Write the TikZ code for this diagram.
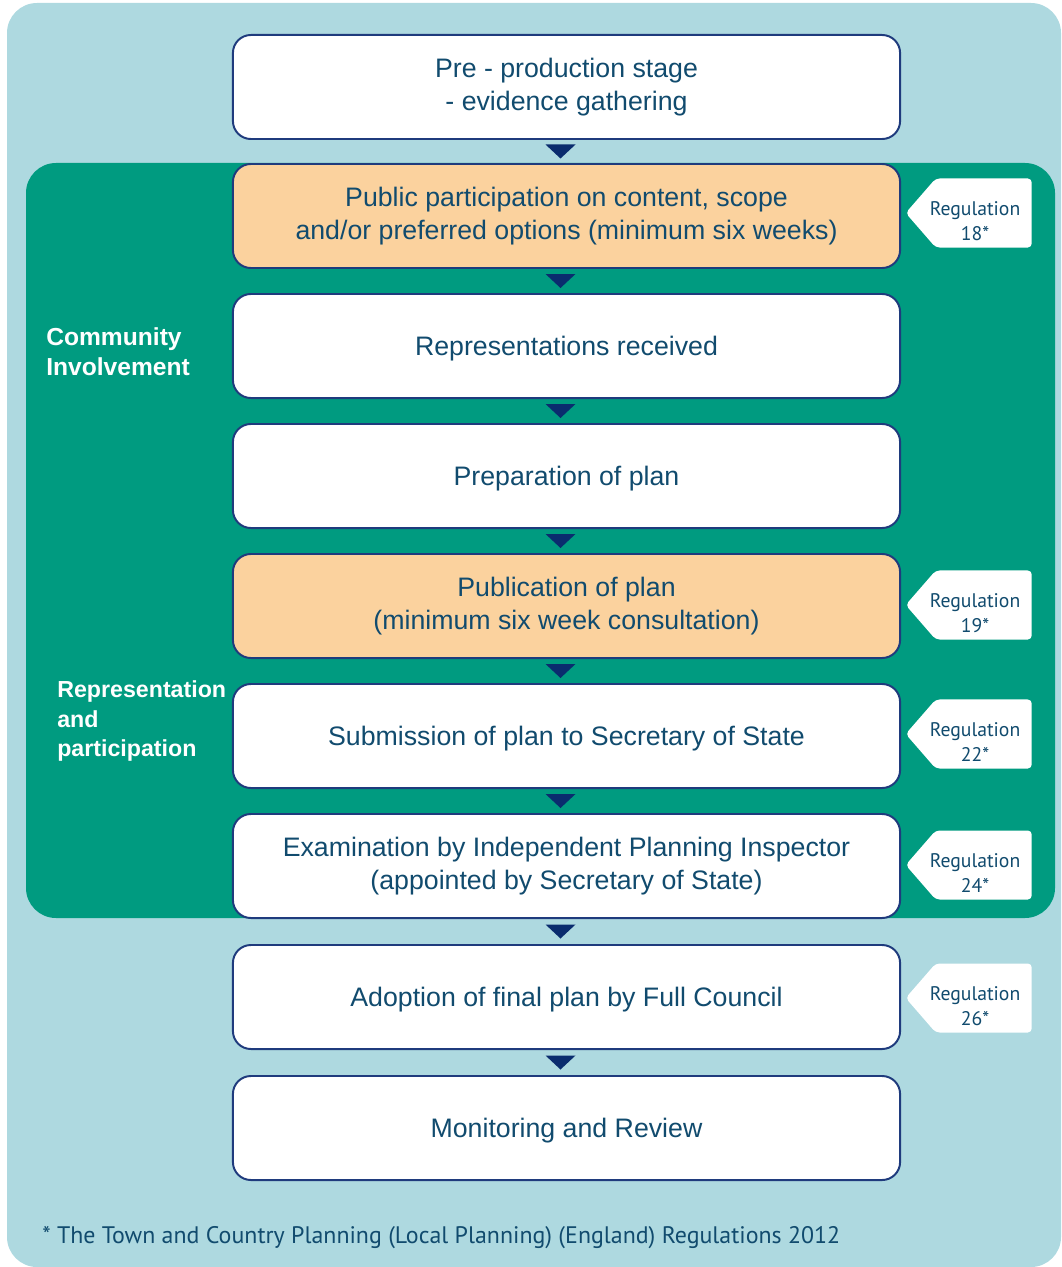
\documentclass[tikz,border=0pt]{standalone}
\usepackage{fontspec}
\setmainfont{Liberation Sans}
\newfontfamily\regfont{PT Sans}
\usetikzlibrary{calc,shapes.symbols}

\definecolor{paleblue}{HTML}{AED9E0}
\definecolor{grnpanel}{HTML}{009B80}
\definecolor{peach}{HTML}{FBD29E}
\definecolor{navyline}{HTML}{1F3B7D}
\definecolor{navytri}{HTML}{0A2C6E}
\definecolor{inktxt}{HTML}{114B6E}

\tikzset{
  stage/.style={draw=navyline, line width=1.4pt, fill=white, rounded corners=0.45cm,
    minimum width=16.675cm, minimum height=2.6cm, align=center, text=inktxt,
    font=\fontsize{19}{23.2}\selectfont},
  regtag/.style={signal, signal to=west, signal pointer angle=98, fill=white,
    rounded corners=0.1cm, minimum width=3.15cm, minimum height=1.725cm, inner sep=0pt},
  regtxt/.style={align=center, inner sep=0pt, text=inktxt,
    font=\regfont\fontsize{14}{17.8}\selectfont},
  sidelabel/.style={text=white, font=\bfseries\fontsize{17.5}{21.3}\selectfont,
    align=left, anchor=west, inner sep=0pt}
}

\begin{document}
\begin{tikzpicture}[x=0.025cm, y=0.025cm]
  \useasboundingbox (0,0) rectangle (1061,-1267);
  % panels
  \fill[paleblue, rounded corners=0.75cm] (7,-3) rectangle (1061,-1267);
  \fill[grnpanel, rounded corners=0.75cm] (26,-163) rectangle (1055,-918);

  % stages
  \node[stage] (b1) at (566.5,-87) {Pre - production stage\\- evidence gathering};
  \node[stage, fill=peach] (b2) at (566.5,-216) {Public participation on content, scope\\and/or preferred options (minimum six weeks)};
  \node[stage, text depth=0pt] (b3) at (566.5,-346) {Representations received};
  \node[stage, text depth=0pt] (b4) at (566.5,-476) {Preparation of plan};
  \node[stage, fill=peach] (b5) at (566.5,-606) {Publication of plan\\(minimum six week consultation)};
  \node[stage, text depth=0pt] (b6) at (566.5,-736) {Submission of plan to Secretary of State};
  \node[stage] (b7) at (566.5,-866) {Examination by Independent Planning Inspector\\(appointed by Secretary of State)};
  \node[stage, text depth=0pt] (b8) at (566.5,-997) {Adoption of final plan by Full Council};
  \node[stage, text depth=0pt] (b9) at (566.5,-1128) {Monitoring and Review};

  % flow markers
  \foreach \a/\b in {b1/b2,b2/b3,b3/b4,b4/b5,b5/b6,b6/b7,b7/b8,b8/b9} {
    \coordinate (m) at ($(\a.south)!0.5!(\b.north)+(-6,0)$);
    \fill[navytri] ($(m)+(-15,7)$) -- ($(m)+(15,7)$) -- ($(m)+(0,-7)$) -- cycle;
  }

  % regulation tags
  \foreach \n/\y in {18/213,19/605,22/734,24/865,26/998} {
    \node[regtag, anchor=east] (r\n) at (1032,-\y) {};
    \node[regtxt] (r\n t) at ($(r\n.east)+(-57,-8)$) {Regulation\\\n*};
  }

  % side labels
  \node[sidelabel] (ci) at (46,-352) {Community\\Involvement};
  \node[sidelabel, font=\bfseries\fontsize{16.5}{21.3}\selectfont] (rp) at (57,-721) {Representation\\and\\participation};

  \node[anchor=west, inner sep=0pt, text=inktxt, font=\regfont\fontsize{17}{20}\selectfont] (note) at (42,-1238)
    {* The Town and Country Planning (Local Planning) (England) Regulations 2012};
\end{tikzpicture}
\end{document}
